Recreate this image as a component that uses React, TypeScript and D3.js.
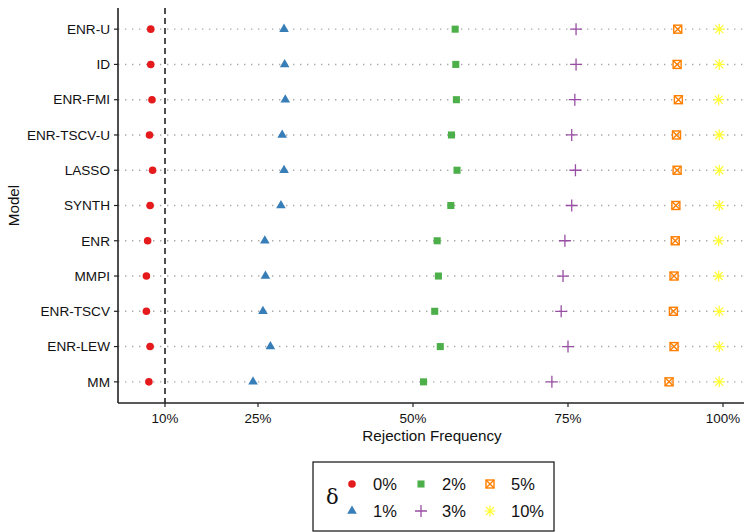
import * as d3 from 'd3';

const models = ['ENR-U', 'ID', 'ENR-FMI', 'ENR-TSCV-U', 'LASSO', 'SYNTH', 'ENR', 'MMPI', 'ENR-TSCV', 'ENR-LEW', 'MM'];
const deltas = ['0%', '1%', '2%', '3%', '5%', '10%'];
// rejection frequency (%) for each delta, in model order
const d0 = [7.7, 7.7, 7.9, 7.5, 8.0, 7.6, 7.2, 7.0, 7.0, 7.6, 7.4];
const d1 = [29.2, 29.3, 29.4, 28.9, 29.2, 28.7, 26.1, 26.2, 25.8, 27.0, 24.2];
const d2 = [56.8, 56.9, 57.0, 56.2, 57.1, 56.1, 53.9, 54.1, 53.5, 54.4, 51.7];
const d3v = [76.3, 76.3, 76.1, 75.6, 76.2, 75.6, 74.5, 74.2, 73.9, 75.0, 72.4];
const d5 = [92.7, 92.6, 92.8, 92.5, 92.6, 92.4, 92.3, 92.1, 92.0, 92.1, 91.3];
const d10 = [99.4, 99.4, 99.3, 99.4, 99.4, 99.4, 99.3, 99.3, 99.4, 99.4, 99.4];
const seriesValues = [d0, d1, d2, d3v, d5, d10];
const xTicks = [10, 25, 50, 75, 100];
const cutoff = 10;

const colors = ['#E41A1C', '#377EB8', '#4DAF4A', '#984EA3', '#FF7F00', '#FFFF33'];
const shapes = ['circle', 'triangle', 'square', 'plus', 'boxx', 'star'];

const FONT = '"Liberation Sans", Arial, Helvetica, sans-serif';

function Marker({ shape, color, x, y }: { shape: string; color: string; x: number; y: number }) {
  const t = `translate(${x},${y})`;
  if (shape === 'circle') return <circle cx={x} cy={y} r={3.8} fill={color} />;
  if (shape === 'triangle')
    return <path transform={t} d={d3.symbol(d3.symbolTriangle, 40)()!} fill={color} />;
  if (shape === 'square')
    return <path transform={t} d={d3.symbol(d3.symbolSquare, 50)()!} fill={color} />;
  if (shape === 'plus')
    return (
      <path transform={t} d="M-6,0H6M0,-6V6" stroke={color} strokeWidth={1.3} fill="none" />
    );
  if (shape === 'boxx')
    return (
      <g transform={t} stroke={color} strokeWidth={1.4} fill="none">
        <rect x={-4} y={-4} width={8} height={8} />
        <path d="M-4,-4L4,4M4,-4L-4,4" />
      </g>
    );
  return (
    <path
      transform={t}
      d="M-5.5,0H5.5M0,-5.5V5.5M-4,-4L4,4M4,-4L-4,4"
      stroke={color}
      strokeWidth={1.2}
      fill="none"
    />
  );
}

export default function App() {
  const width = 744;
  const height = 532;
  const left = 118;
  const right = 744;
  const top = 8;
  const bottom = 403;

  const x = d3.scaleLinear().domain([0, 100]).range([103, 723]);
  const y = d3.scalePoint().domain(models).range([top, bottom]).padding(0.6);

  return (
    <svg width={width} height={height} style={{ position: 'absolute', left: 0, top: 0 }} fontFamily={FONT}>
      {/* grid */}
      {models.map((m) => (
        <line
          key={m}
          x1={left}
          x2={right}
          y1={y(m)}
          y2={y(m)}
          stroke="#aaa"
          strokeWidth={1.4}
          strokeDasharray="1.4 5.6"
        />
      ))}
      <line x1={x(cutoff)} x2={x(cutoff)} y1={top} y2={bottom} stroke="#222" strokeWidth={1.6} strokeDasharray="6 4" />

      {/* points */}
      {seriesValues.map((vals, si) =>
        vals.map((v, i) => (
          <Marker key={`${si}-${i}`} shape={shapes[si]} color={colors[si]} x={x(v)} y={y(models[i])!} />
        ))
      )}

      {/* axes */}
      <line x1={left} x2={left} y1={top} y2={bottom} stroke="#222" strokeWidth={1.6} />
      <line x1={left} x2={right} y1={bottom} y2={bottom} stroke="#222" strokeWidth={1.6} />
      {models.map((m) => (
        <g key={m}>
          <line x1={left - 4} x2={left} y1={y(m)} y2={y(m)} stroke="#222" strokeWidth={1.2} />
          <text x={left - 8} y={y(m)} dy="0.35em" textAnchor="end" fontSize={13.6} fill="#111">
            {m}
          </text>
        </g>
      ))}
      {xTicks.map((t) => (
        <g key={t}>
          <line x1={x(t)} x2={x(t)} y1={bottom} y2={bottom + 4} stroke="#222" strokeWidth={1.2} />
          <text x={x(t)} y={bottom + 20} textAnchor="middle" fontSize={13.4} fill="#111">
            {t}%
          </text>
        </g>
      ))}
      <text x={432} y={441} textAnchor="middle" fontSize={15.2} fill="#111">
        Rejection Frequency
      </text>
      <text transform={`translate(19,${(top + bottom) / 2}) rotate(-90)`} textAnchor="middle" fontSize={15.2} fill="#111">
        Model
      </text>

      {/* legend */}
      <rect x={313} y={462} width={241} height={69} fill="white" stroke="#222" strokeWidth={1.3} />
      <text x={326} y={504} fontSize={21} fontFamily='"DejaVu Serif", serif' fill="#111">
        δ
      </text>
      {deltas.map((d, i) => {
        const col = Math.floor(i / 2);
        const row = i % 2;
        const lx = 352 + col * 69;
        const ly = 484 + row * 27;
        return (
          <g key={d}>
            <Marker shape={shapes[i]} color={colors[i]} x={lx} y={ly} />
            <text x={lx + 21} y={ly} dy="0.36em" fontSize={16.5} fill="#111">
              {d}
            </text>
          </g>
        );
      })}
    </svg>
  );
}
